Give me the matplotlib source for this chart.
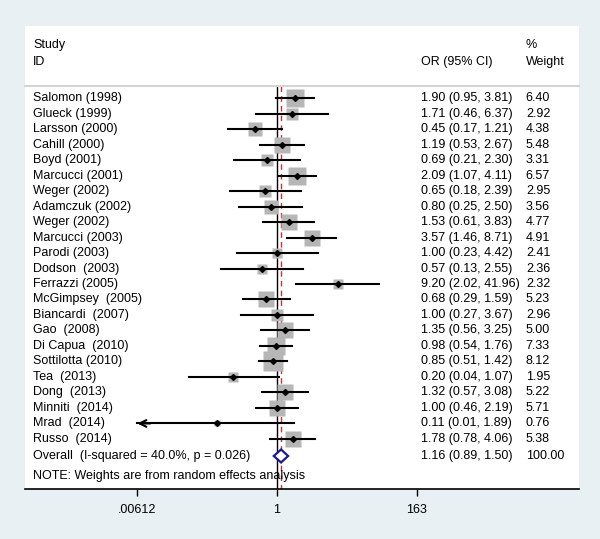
#!/usr/bin/env python3

# forest plot, random effects OR

import numpy as np
import matplotlib.pyplot as plt
from matplotlib.patches import Polygon
from matplotlib.transforms import blended_transform_factory

studies = ["Salomon (1998)", "Glueck (1999)", "Larsson (2000)", "Cahill (2000)",
	"Boyd (2001)", "Marcucci (2001)", "Weger (2002)", "Adamczuk (2002)",
	"Weger (2002)", "Marcucci (2003)", "Parodi (2003)", "Dodson  (2003)",
	"Ferrazzi (2005)", "McGimpsey  (2005)", "Biancardi  (2007)", "Gao  (2008)",
	"Di Capua  (2010)", "Sottilotta (2010)", "Tea  (2013)", "Dong  (2013)",
	"Minniti  (2014)", "Mrad  (2014)", "Russo  (2014)"]
odds = [1.90, 1.71, 0.45, 1.19, 0.69, 2.09, 0.65, 0.80, 1.53, 3.57, 1.00, 0.57,
	9.20, 0.68, 1.00, 1.35, 0.98, 0.85, 0.20, 1.32, 1.00, 0.11, 1.78]
lower = [0.95, 0.46, 0.17, 0.53, 0.21, 1.07, 0.18, 0.25, 0.61, 1.46, 0.23, 0.13,
	2.02, 0.29, 0.27, 0.56, 0.54, 0.51, 0.04, 0.57, 0.46, 0.0055, 0.78]
upper = [3.81, 6.37, 1.21, 2.67, 2.30, 4.11, 2.39, 2.50, 3.83, 8.71, 4.42, 2.55,
	41.96, 1.59, 3.67, 3.25, 1.76, 1.42, 1.07, 3.08, 2.19, 1.89, 4.06]
weights = [6.40, 2.92, 4.38, 5.48, 3.31, 6.57, 2.95, 3.56, 4.77, 4.91, 2.41, 2.36,
	2.32, 5.23, 2.96, 5.00, 7.33, 8.12, 1.95, 5.22, 5.71, 0.76, 5.38]

overall_label = "Overall  (I-squared = 40.0%, p = 0.026)"
overall_or, overall_lo, overall_hi, overall_w = 1.16, 0.89, 1.50, 100.00

tick_vals = [0.00612, 1, 163]
tick_labels = [".00612", "1", "163"]


def main():
	plt.rcParams["font.family"] = ["Liberation Sans", "DejaVu Sans"]
	fs = 9

	fig = plt.figure(figsize=(6.0, 5.39), dpi=100)
	fig.patch.set_facecolor("#e8f0f3")
	ax = fig.add_axes([25 / 600, 50 / 539, 554 / 600, 463 / 539])
	ax.set_facecolor("white")

	# log x scale: 1 sits at px 277, 27.4 px per ln unit, panel 25..579 px
	ppl = 27.4
	ax.set_xscale("log")
	ax.set_xlim(np.exp((25 - 277) / ppl), np.exp((579 - 277) / ppl))
	# rows 15.5 px apart, first study at px 98
	ax.set_ylim(25.23, -4.65)

	for s in ["top", "left", "right"]:
		ax.spines[s].set_visible(False)
	ax.spines["bottom"].set_linewidth(1.2)
	ax.set_yticks([])
	ax.set_xticks(tick_vals)
	ax.set_xticklabels(tick_labels, fontsize=fs)
	ax.minorticks_off()
	ax.tick_params(axis="x", length=5, width=1, pad=6)

	tr = blended_transform_factory(ax.transAxes, ax.transData)

	# header
	ax.text(0.0144, -3.42, "Study", transform=tr, fontsize=fs, va="center")
	ax.text(0.0144, -2.32, "ID", transform=tr, fontsize=fs, va="center")
	ax.text(0.715, -2.32, "OR (95% CI)", transform=tr, fontsize=fs, va="center")
	ax.text(0.904, -3.42, "%", transform=tr, fontsize=fs, va="center")
	ax.text(0.904, -2.32, "Weight", transform=tr, fontsize=fs, va="center")
	ax.plot([0, 1], [-0.77, -0.77], transform=tr, color="#d4d4d4", lw=1.5, clip_on=False)

	# reference lines
	ax.plot([1, 1], [-0.77, 25.23], color="black", lw=1, zorder=1)
	ax.plot([overall_or, overall_or], [-0.77, 25.23], color="#c8323c", lw=1,
		ls=(0, (4, 3)), zorder=1)

	xmin = tick_vals[0]
	for i in range(len(studies)):
		y = i
		ax.text(0.0144, y, studies[i], transform=tr, fontsize=fs, va="center")
		txt = "%.2f (%.2f, %.2f)" % (odds[i], lower[i], upper[i])
		ax.text(0.715, y, txt, transform=tr, fontsize=fs, va="center")
		ax.text(0.904, y, "%.2f" % weights[i], transform=tr, fontsize=fs, va="center")

		ms = 5.0 * np.sqrt(weights[i])
		ax.plot(odds[i], y, marker="s", ms=ms, color="#b6b6b6", mec="none", zorder=2)
		if lower[i] < xmin:
			ax.plot([xmin, upper[i]], [y, y], color="black", lw=1.5, zorder=3)
			ax.annotate("", xy=(xmin, y), xytext=(xmin * 1.6, y),
				arrowprops=dict(arrowstyle="->", lw=1.5, color="black",
				mutation_scale=12, shrinkA=0, shrinkB=0), zorder=3)
		else:
			ax.plot([lower[i], upper[i]], [y, y], color="black", lw=1.5, zorder=3)
		ax.plot(odds[i], y, marker="D", ms=3, color="black", zorder=4)

	# overall diamond
	y = len(studies) + 0.1
	ax.text(0.0144, y, overall_label, transform=tr, fontsize=fs, va="center")
	ax.text(0.715, y, "%.2f (%.2f, %.2f)" % (overall_or, overall_lo, overall_hi),
		transform=tr, fontsize=fs, va="center")
	ax.text(0.904, y, "%.2f" % overall_w, transform=tr, fontsize=fs, va="center")
	h = 0.42
	dia = Polygon([(overall_lo, y), (overall_or, y - h), (overall_hi, y), (overall_or, y + h)],
		closed=True, facecolor="white", edgecolor="#1c1c8c", lw=1.6, zorder=5)
	ax.add_patch(dia)

	ax.text(0.0144, 24.39, "NOTE: Weights are from random effects analysis",
		transform=tr, fontsize=fs, va="center")

	plt.savefig("out.png", dpi=100, facecolor=fig.get_facecolor())


if __name__ == "__main__":
	main()
